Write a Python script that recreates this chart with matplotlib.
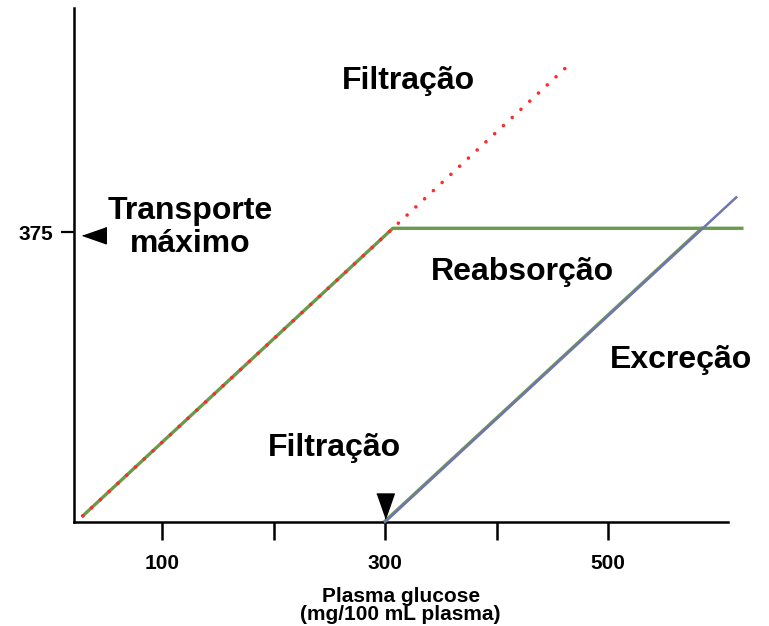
import matplotlib.pyplot as plt

plt.rcParams['font.family'] = ['Liberation Sans', 'DejaVu Sans']

# filtered load (glucose)
filt_x = [29, 307, 469]
filt_y = [8, 380, 597]
# reabsorption: rises with filtration, then plateaus at transport maximum
reab_x = [29, 307, 620]
reab_y = [8, 380, 380]
# excretion starts at renal threshold (300)
excr_x = [300, 615]
excr_y = [0, 420]
reab_diag_x = [299, 584]
reab_diag_y = [0, 380]

xticks_major = [100, 300, 500]
xticks_minor = [200, 400]
ytick = [375]

fig = plt.figure(figsize=(7.69, 6.26), dpi=100)
ax = fig.add_axes([73.5 / 769, 1 - 522 / 626, (728 - 73.5) / 769, (522 - 8) / 626])
ax.set_xlim(20.6, 607.6)
ax.set_ylim(0, 665)

green = '#6b9a4c'
ax.plot(reab_x, reab_y, color=green, lw=2.4, clip_on=False, zorder=2)
ax.plot(reab_diag_x, reab_diag_y, color=green, lw=2.2, clip_on=False, zorder=2)
ax.plot(excr_x, excr_y, color='#7074b0', lw=1.8, clip_on=False, zorder=3)
ax.plot(filt_x, filt_y, color='#ff2a2a', lw=2.6, ls=(0, (0.01, 3.3)),
        dash_capstyle='round', clip_on=False, zorder=4)

# markers (arrowheads)
down_tri = [(-0.35, 0.5), (0.35, 0.5), (0, -0.5)]
left_tri = [(0.5, 0.35), (0.5, -0.35), (-0.5, 0)]
ax.plot([300], [21], marker=down_tri, color='black', ms=18, clip_on=False)
ax.plot([38.6], [371], marker=left_tri, color='black', ms=17, clip_on=False)

for s in ['top', 'right']:
    ax.spines[s].set_visible(False)
for s in ['left', 'bottom']:
    ax.spines[s].set_linewidth(1.8)

ax.set_xticks(xticks_major)
ax.set_xticks(xticks_minor, minor=True)
ax.set_xticklabels([str(v) for v in xticks_major], fontsize=15, fontweight='bold')
ax.tick_params(axis='x', which='both', direction='out', length=13, width=1.8, pad=10)
ax.set_yticks(ytick)
ax.set_yticklabels(['375'], fontsize=15, fontweight='bold')
ax.tick_params(axis='y', direction='out', length=9.5, width=1.6, pad=5)

ax.set_xlabel('Plasma glucose\n(mg/100 mL plasma)', fontsize=15, fontweight='bold',
              labelpad=10, linespacing=0.92)

tkw = dict(fontsize=23, fontweight='bold', ha='center', va='center')
ax.text(320.6, 571, 'Filtração', **tkw)
ax.text(125, 381, 'Transporte\nmáximo', linespacing=1.12, **tkw)
ax.text(423, 323, 'Reabsorção', **tkw)
ax.text(565, 209, 'Excreção', **tkw)
ax.text(255, 96, 'Filtração', **tkw)

fig.savefig('out.png', dpi=100)
